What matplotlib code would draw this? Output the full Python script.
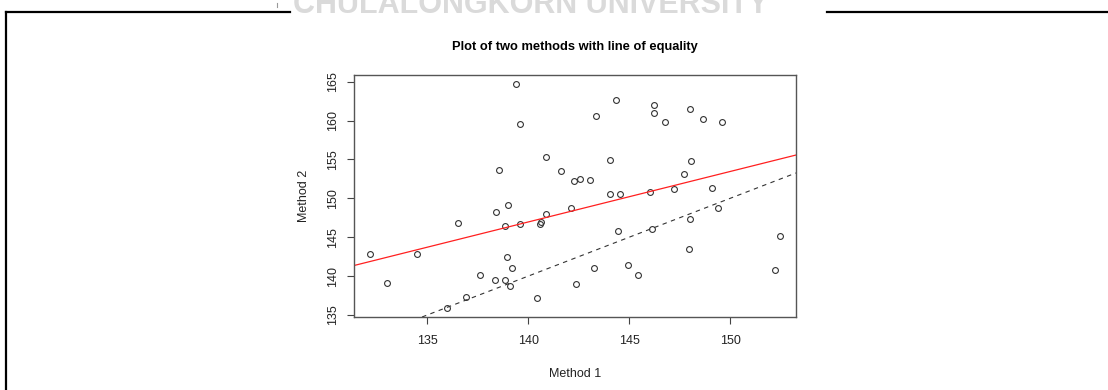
import matplotlib.pyplot as plt
from matplotlib.lines import Line2D
import numpy as np

# readings of the two methods
method1 = [132.19, 133.02, 134.49, 135.97, 136.55, 136.91, 137.62, 138.35, 138.43, 138.58,
           138.83, 138.83, 138.94, 138.98, 139.11, 139.22, 139.41, 139.58, 139.60, 140.45,
           140.61, 140.64, 140.87, 140.90, 141.63, 142.13, 142.28, 142.39, 142.58, 143.05,
           143.25, 143.35, 144.03, 144.06, 144.36, 144.43, 144.55, 144.92, 145.45, 146.02,
           146.14, 146.24, 146.24, 146.80, 147.23, 147.70, 147.94, 147.99, 147.99, 148.07,
           148.64, 149.12, 149.42, 149.60, 152.23, 152.45]
method2 = [142.8, 139.15, 142.9, 135.9, 146.8, 137.3, 140.1, 139.45, 148.3, 153.7,
           139.45, 146.45, 142.5, 149.1, 138.76, 141.05, 164.7, 159.5, 146.7, 137.2,
           146.75, 147.0, 148.0, 155.3, 153.5, 148.7, 152.2, 138.95, 152.5, 152.35,
           141.07, 160.55, 150.5, 154.9, 162.6, 145.77, 150.6, 141.4, 140.13, 150.85,
           146.0, 162.0, 161.0, 159.87, 151.15, 153.16, 143.5, 147.3, 161.5, 154.76,
           160.2, 151.37, 148.7, 159.87, 140.8, 145.1]

fit_intercept = 56.1
fit_slope = 0.649

xticks = [135, 140, 145, 150]
yticks = [135, 140, 145, 150, 155, 160, 165]

plt.rcParams['font.family'] = ['Liberation Sans', 'DejaVu Sans']

fig = plt.figure(figsize=(11.08, 3.9), dpi=100)
W, H = 1108, 390
ax = fig.add_axes([354 / W, 1 - 317 / H, 442 / W, 242 / H])

ax.plot(method1, method2, 'o', mfc='none', mec='#333333', ms=4.2, mew=0.8)
ax.axline((0, fit_intercept), slope=fit_slope, color='#ff2020', lw=0.9)
ax.axline((0, 0), slope=1, color='#333333', lw=0.8, linestyle=(0, (4, 4)))

# R style limits: data range plus 4 % each side
x = np.array(method1)
y = np.array(method2)
px = (x.max() - x.min()) * 0.04
py = (y.max() - y.min()) * 0.04
ax.set_xlim(x.min() - px, x.max() + px)
ax.set_ylim(y.min() - py, y.max() + py)

ax.set_xticks(xticks)
ax.set_yticks(yticks)
ax.set_yticklabels([str(t) for t in yticks], rotation=90, va='center')
ax.tick_params(direction='out', length=5, width=0.8, color='#444444',
               labelsize=9, labelcolor='#222222')
ax.tick_params(axis='x', pad=8)
ax.tick_params(axis='y', pad=6)
for s in ax.spines.values():
    s.set_color('#555555')
    s.set_linewidth(1.0)

ax.set_xlabel('Method 1', fontsize=9, color='#222222', labelpad=15)
ax.set_ylabel('Method 2', fontsize=9, color='#222222', labelpad=12)
ax.set_title('Plot of two methods with line of equality', fontsize=9.3,
             fontweight='bold', pad=18)

# page frame and watermark around the figure
fig.add_artist(Line2D([6 / W, 290 / W], [1 - 12 / H] * 2, color='black', lw=1.6))
fig.add_artist(Line2D([827 / W, 1.0], [1 - 12 / H] * 2, color='black', lw=1.6))
fig.add_artist(Line2D([6 / W, 6 / W], [0, 1 - 12 / H], color='black', lw=1.6))
fig.add_artist(Line2D([277 / W, 277 / W], [1 - 3 / H, 1 - 7 / H], color='#999999', lw=0.8))
fig.text(531 / W, 1 - 13 / H, 'CHULALONGKORN UNIVERSITY', ha='center', va='baseline',
         fontsize=22, fontweight='bold', color='#dadada',
         family=['Liberation Sans Narrow', 'Liberation Sans'])

fig.savefig('out.png', dpi=100)
